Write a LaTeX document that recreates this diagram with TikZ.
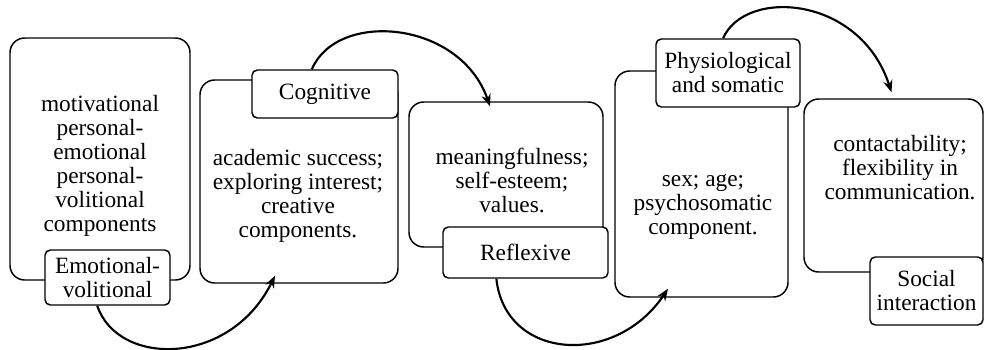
\documentclass[tikz,border=0pt]{standalone}
\usepackage{fontspec}
\setmainfont{LiberationSerif-Regular.ttf}
\usetikzlibrary{arrows.meta,calc}

\tikzset{every picture/.style={line width=1.1pt}}
\tikzset{
	stagebox/.style={draw, rounded corners=11pt, inner sep=0pt},
	stagetag/.style={draw, fill=white, rounded corners=4pt, inner sep=0pt, align=center, font=\fontsize{17.5}{18}\selectfont},
	stagetext/.style={align=center, font=\fontsize{17.5}{18}\selectfont},
	flowarrow/.style={line width=1.6pt, -{Stealth[length=9pt,width=7pt]}}}

\begin{document}
\begin{tikzpicture}[x=0.75pt,y=0.75pt,yscale=-1,xscale=1]
	\useasboundingbox (0,0) rectangle (986,350);

	%Shape: Rounded Rect [id:emobox]
	\node[stagebox, minimum width=135pt, minimum height=181.5pt] (b1) at (100,159) {};
	%Shape: Rounded Rect [id:cogbox]
	\node[stagebox, minimum width=148.5pt, minimum height=152.25pt] (b2) at (299,181.5) {};
	%Shape: Rounded Rect [id:reflbox]
	\node[stagebox, minimum width=145.5pt, minimum height=108.75pt] (b3) at (506,174.5) {};
	%Shape: Rounded Rect [id:physbox]
	\node[stagebox, minimum width=129.75pt, minimum height=169.5pt] (b4) at (701.5,184) {};
	%Shape: Rounded Rect [id:socbox]
	\node[stagebox, minimum width=134.25pt, minimum height=129.75pt] (b5) at (893.5,185.5) {};

	% Text Node
	\node[stagetext] (t1) at (100,166) {motivational\\personal-\\emotional\\personal-\\volitional\\components};
	% Text Node
	\node[stagetext] (t2) at (298,196) {academic success;\\exploring interest;\\creative\\components.};
	% Text Node
	\node[stagetext] (t3) at (512,180) {meaningfulness;\\self-esteem;\\values.};
	% Text Node
	\node[stagetext] (t4) at (703,207) {sex; age;\\psychosomatic\\component.};
	% Text Node
	\node[stagetext] (t5) at (900,168) {contactability;\\flexibility in\\communication.};

	%Shape: Tag [id:emotag]
	\node[stagetag, minimum width=93.75pt, minimum height=41.25pt] (emo) at (107.5,277.5) {Emotional-\\volitional};
	%Shape: Tag [id:cogtag]
	\node[stagetag, minimum width=109.5pt, minimum height=36pt] (cog) at (325,94) {Cognitive};
	%Shape: Tag [id:refltag]
	\node[stagetag, minimum width=123.75pt, minimum height=38.25pt] (refl) at (525.5,252.5) {Reflexive};
	%Shape: Tag [id:phystag]
	\node[stagetag, minimum width=108pt, minimum height=51pt] (phys) at (728,73) {Physiological\\and somatic};
	%Shape: Tag [id:soctag]
	\node[stagetag, minimum width=84.75pt, minimum height=51pt] (soc) at (926.5,291) {Social\\interaction};

	%Curve Lines [id:flow1]
	\draw[flowarrow] (emo.-110) .. controls (118,367) and (230,367) .. ($(b2.south)+(-24,-8)$);
	%Curve Lines [id:flow2]
	\draw[flowarrow] (cog.118) .. controls (337,10) and (460,20) .. ($(b3.north)+(-16,5)$);
	%Curve Lines [id:flow3]
	\draw[flowarrow] (refl.-138) .. controls (505,360) and (615,368) .. ($(b4.south)+(-33.5,-9)$);
	%Curve Lines [id:flow4]
	\draw[flowarrow] (phys.98) .. controls (745,-12) and (860,-5) .. ($(b5.north)+(-2,-6)$);

\end{tikzpicture}
\end{document}
